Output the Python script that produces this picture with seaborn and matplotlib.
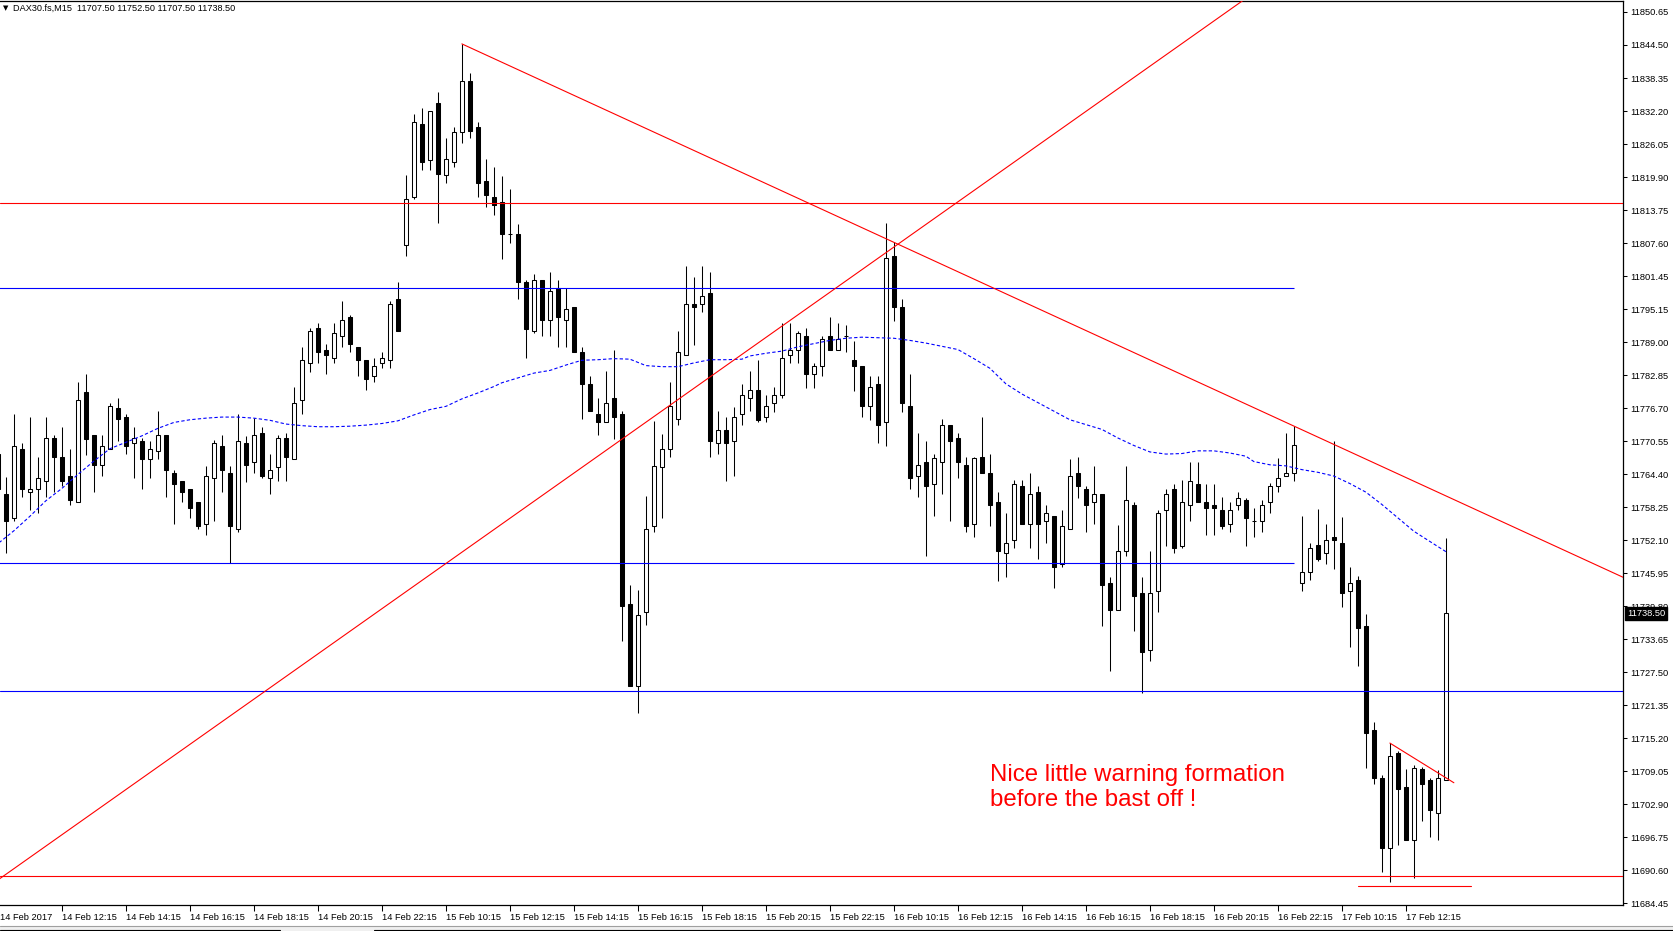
import numpy as np
import seaborn as sns
import matplotlib
matplotlib.use("Agg")
import matplotlib.pyplot as plt
from matplotlib.patches import Rectangle
from matplotlib.lines import Line2D

# DAX30.fs M15 candles, bar index 0 = left edge of the chart
opens = [
    11768.3, 11760.8, 11756.3, 11769.2, 11761.1, 11761.7, 11763.2, 11771.2, 11767.7, 11764.1,
    11759.3, 11779.8, 11771.8, 11766.2, 11769.2, 11776.8, 11775.1, 11770.3, 11770.7, 11767.3,
    11768.8, 11771.8, 11764.7, 11763.2, 11761.7, 11759.3, 11755.2, 11763.8, 11769.7, 11764.7,
    11754.2, 11770.3, 11766.7, 11772.1, 11763.7, 11765.8, 11771.2, 11767.3, 11778.3, 11785.2,
    11791.7, 11787.7, 11786.1, 11790.2, 11793.8, 11788.2, 11785.7, 11782.8, 11785.2, 11785.7,
    11797.1, 11807.2, 11816.1, 11829.7, 11823.1, 11833.6, 11820.2, 11822.6, 11828.2, 11837.7,
    11829.2, 11819.1, 11816.1, 11815.2, 11809.2, 11809.2, 11800.3, 11791.1, 11800.7, 11793.2,
    11799.2, 11793.2, 11795.7, 11787.3, 11781.3, 11775.7, 11774.2, 11778.7, 11775.7, 11740.3,
    11724.9, 11738.8, 11754.8, 11765.8, 11769.2, 11774.7, 11786.7, 11796.2, 11796.2, 11798.2,
    11770.2, 11772.7, 11770.7, 11775.7, 11778.7, 11780.2, 11775.1, 11777.7, 11779.2, 11786.6,
    11787.6, 11790.2, 11783.1, 11784.6, 11790.2, 11787.6, 11790.2, 11785.7, 11784.6, 11777.1,
    11781.3, 11774.1, 11805.1, 11795.6, 11777.2, 11764.1, 11766.7, 11762.6, 11766.7, 11773.6,
    11771.2, 11766.2, 11755.2, 11767.7, 11764.7, 11759.3, 11749.8, 11752.2, 11762.3, 11755.2,
    11761.2, 11755.7, 11756.7, 11747.7, 11754.2, 11764.7, 11761.7, 11759.3, 11760.8, 11744.2,
    11739.1, 11750.2, 11758.7, 11742.3, 11731.7, 11742.7, 11757.7, 11761.7, 11751.1, 11758.7,
    11762.6, 11759.3, 11758.7, 11757.7, 11755.2, 11758.7, 11759.7, 11755.8, 11755.7, 11759.3,
    11762.3, 11764.1, 11764.7, 11744.1, 11746.2, 11751.3, 11749.8, 11752.8, 11751.6, 11742.6,
    11744.7, 11736.2, 11716.8, 11707.8, 11694.8, 11712.4, 11706.2, 11696.3, 11709.4, 11707.4,
    11701.3, 11707.5,
]
highs = [
    11768.5, 11763.9, 11775.7, 11770.3, 11775.2, 11767.7, 11775.2, 11771.8, 11773.3, 11769.2,
    11781.7, 11783.2, 11771.8, 11771.8, 11777.8, 11778.7, 11775.7, 11773.3, 11771.2, 11770.7,
    11776.3, 11771.8, 11765.2, 11763.2, 11761.7, 11759.3, 11765.9, 11770.8, 11771.8, 11765.9,
    11775.7, 11771.5, 11774.9, 11773.3, 11768.2, 11771.7, 11772.1, 11780.8, 11788.2, 11791.8,
    11792.6, 11788.8, 11792.6, 11796.8, 11794.2, 11788.2, 11785.7, 11786.1, 11787.3, 11796.8,
    11800.3, 11820.3, 11831.6, 11832.7, 11832.1, 11835.7, 11827.1, 11829.2, 11844.7, 11839.3,
    11830.1, 11823.2, 11821.8, 11820.0, 11817.6, 11811.2, 11800.7, 11801.8, 11800.7, 11802.2,
    11800.7, 11799.2, 11795.7, 11788.2, 11782.8, 11778.7, 11783.7, 11787.7, 11776.2, 11743.8,
    11742.8, 11760.3, 11774.3, 11771.9, 11781.7, 11791.2, 11803.3, 11801.3, 11803.3, 11802.2,
    11776.2, 11775.2, 11776.9, 11781.3, 11783.7, 11785.7, 11779.2, 11780.7, 11792.6, 11792.6,
    11791.1, 11791.7, 11785.1, 11790.2, 11793.7, 11792.7, 11792.3, 11789.3, 11784.6, 11782.7,
    11782.7, 11811.3, 11807.7, 11797.1, 11783.2, 11772.1, 11770.6, 11768.2, 11774.7, 11773.6,
    11772.1, 11767.7, 11767.7, 11775.2, 11768.2, 11761.2, 11757.2, 11763.3, 11763.3, 11764.7,
    11762.3, 11758.7, 11756.7, 11757.8, 11767.3, 11767.7, 11762.3, 11765.9, 11760.8, 11745.3,
    11754.9, 11765.9, 11759.3, 11745.3, 11750.2, 11757.7, 11761.7, 11762.6, 11763.3, 11766.8,
    11766.8, 11762.6, 11762.6, 11760.2, 11759.3, 11761.2, 11760.1, 11758.2, 11759.7, 11762.8,
    11767.4, 11772.1, 11773.4, 11756.7, 11751.6, 11757.9, 11755.2, 11770.6, 11756.4, 11747.2,
    11745.4, 11738.3, 11718.3, 11708.3, 11714.3, 11712.8, 11709.5, 11710.3, 11709.8, 11707.8,
    11709.3, 11752.5,
]
lows = [
    11761.0, 11749.8, 11755.7, 11760.2, 11757.7, 11757.2, 11760.2, 11761.1, 11762.2, 11758.7,
    11759.3, 11768.1, 11761.1, 11764.1, 11769.2, 11770.6, 11768.2, 11763.7, 11761.6, 11763.7,
    11767.2, 11760.2, 11755.1, 11759.2, 11756.2, 11754.2, 11753.1, 11755.7, 11761.1, 11747.8,
    11753.6, 11763.0, 11764.6, 11763.7, 11760.7, 11763.1, 11763.1, 11767.3, 11775.6, 11783.6,
    11785.2, 11783.1, 11785.2, 11788.2, 11787.2, 11782.7, 11780.1, 11781.7, 11784.2, 11784.2,
    11791.1, 11805.1, 11815.7, 11821.1, 11821.1, 11811.3, 11818.7, 11821.7, 11826.2, 11827.1,
    11816.1, 11814.2, 11812.7, 11804.6, 11807.6, 11797.1, 11786.2, 11790.7, 11790.2, 11790.2,
    11788.2, 11788.2, 11787.2, 11774.7, 11776.2, 11771.7, 11774.2, 11771.1, 11733.3, 11724.9,
    11719.9, 11736.3, 11753.7, 11756.3, 11767.6, 11773.7, 11786.7, 11788.6, 11794.7, 11767.6,
    11768.2, 11763.2, 11764.2, 11773.6, 11776.2, 11774.1, 11774.1, 11776.1, 11778.7, 11785.1,
    11785.1, 11780.6, 11780.6, 11782.7, 11787.6, 11787.6, 11787.2, 11780.0, 11775.1, 11774.6,
    11770.2, 11769.7, 11793.1, 11776.1, 11761.7, 11760.2, 11749.2, 11756.7, 11760.7, 11755.7,
    11763.7, 11753.6, 11752.8, 11764.7, 11754.7, 11744.5, 11745.3, 11750.6, 11755.2, 11750.6,
    11748.7, 11751.6, 11743.2, 11747.2, 11754.2, 11760.1, 11753.6, 11755.2, 11736.1, 11727.7,
    11739.1, 11749.2, 11735.2, 11723.7, 11729.7, 11738.7, 11751.1, 11749.7, 11750.6, 11755.7,
    11759.3, 11753.1, 11753.1, 11754.2, 11753.6, 11757.7, 11751.1, 11752.8, 11753.6, 11757.2,
    11761.1, 11764.1, 11763.1, 11742.6, 11744.7, 11748.3, 11747.7, 11746.7, 11739.7, 11732.2,
    11728.7, 11709.7, 11706.7, 11690.3, 11688.3, 11695.2, 11696.3, 11689.2, 11699.8, 11696.8,
    11696.2, 11707.5,
]
closes = [
    11761.6, 11755.7, 11769.7, 11761.6, 11761.7, 11763.8, 11771.2, 11767.6, 11763.1, 11759.7,
    11778.3, 11771.1, 11766.1, 11769.7, 11777.2, 11774.7, 11769.7, 11771.2, 11767.3, 11769.2,
    11771.8, 11765.2, 11762.6, 11761.1, 11758.1, 11754.7, 11764.1, 11770.3, 11765.2, 11754.7,
    11770.7, 11766.1, 11771.8, 11764.1, 11765.2, 11771.2, 11767.6, 11777.7, 11785.7, 11791.2,
    11787.2, 11786.6, 11790.8, 11793.2, 11788.7, 11785.7, 11782.2, 11784.6, 11786.1, 11796.2,
    11791.1, 11815.7, 11830.1, 11822.6, 11832.1, 11820.5, 11823.2, 11828.2, 11837.7, 11828.5,
    11818.7, 11816.6, 11814.6, 11809.2, 11809.2, 11800.2, 11791.6, 11800.7, 11793.2, 11798.6,
    11793.7, 11795.2, 11787.2, 11781.3, 11776.2, 11774.2, 11777.7, 11775.1, 11739.8, 11724.9,
    11738.2, 11754.3, 11765.9, 11769.2, 11777.2, 11787.3, 11796.2, 11795.7, 11797.7, 11770.6,
    11772.7, 11770.2, 11775.1, 11779.2, 11780.2, 11774.6, 11777.2, 11779.2, 11786.1, 11787.6,
    11790.7, 11783.1, 11784.6, 11789.7, 11787.6, 11789.7, 11790.2, 11784.6, 11777.1, 11780.7,
    11773.6, 11804.7, 11795.6, 11777.7, 11763.7, 11766.1, 11762.2, 11767.4, 11773.6, 11770.6,
    11766.7, 11754.7, 11767.4, 11764.7, 11758.7, 11750.2, 11751.6, 11762.6, 11755.2, 11760.8,
    11755.2, 11757.2, 11747.2, 11754.8, 11764.2, 11762.3, 11758.7, 11760.8, 11743.8, 11739.1,
    11750.2, 11759.7, 11741.7, 11731.3, 11742.3, 11757.2, 11760.8, 11750.6, 11759.3, 11763.2,
    11759.3, 11758.2, 11758.2, 11754.8, 11757.7, 11760.1, 11756.2, 11755.8, 11758.7, 11762.3,
    11763.8, 11764.7, 11769.8, 11746.2, 11750.7, 11748.7, 11752.2, 11752.2, 11742.3, 11744.2,
    11735.7, 11716.2, 11707.8, 11694.8, 11711.8, 11705.8, 11696.3, 11709.7, 11706.7, 11701.8,
    11707.8, 11738.5,
]

# moving average (blue dotted), read at these bars
ma_bar = [0, 2, 4, 6, 8, 10, 12, 14, 16, 18, 20, 22, 24, 26, 28, 30,
          32, 34, 36, 38, 40, 42, 44, 46, 48, 50, 52, 54, 56, 58, 60, 62,
          63, 65, 67, 69, 71, 73, 75, 77, 79, 81, 83, 85, 87, 89, 91, 93,
          94, 96, 98, 100, 102, 104, 106, 108, 110, 112, 114, 116, 118, 120, 122, 124,
          126, 128, 130, 132, 134, 136, 138, 140, 142, 144, 146, 148, 150, 152, 154, 156,
          157, 159, 161, 163, 165, 167, 169, 171, 173, 175, 177, 179, 181]
ma_val = [11751.5, 11753.9, 11756.6, 11759.5, 11761.8, 11764.4, 11766.9, 11769.2,
          11770.4, 11771.6, 11773.0, 11774.1, 11774.6, 11774.9, 11775.1, 11775.1,
          11774.9, 11774.5, 11773.8, 11773.5, 11773.3, 11773.3, 11773.4, 11773.6,
          11773.9, 11774.4, 11775.5, 11776.5, 11777.1, 11778.5, 11779.6, 11780.8,
          11781.5, 11782.4, 11783.3, 11783.8, 11784.8, 11785.7, 11785.8, 11786.0,
          11785.9, 11784.7, 11784.5, 11784.5, 11785.2, 11785.8, 11785.8, 11785.9,
          11786.5, 11787.0, 11787.4, 11788.2, 11788.8, 11789.4, 11789.8, 11790.0,
          11789.9, 11789.8, 11789.4, 11788.9, 11788.3, 11787.7, 11786.0, 11784.2,
          11781.3, 11779.4, 11777.8, 11776.2, 11774.6, 11773.7, 11772.8, 11771.2,
          11769.8, 11768.6, 11768.2, 11768.3, 11768.8, 11768.8, 11768.4, 11767.8,
          11766.8, 11766.2, 11766.0, 11765.3, 11764.8, 11764.1, 11762.7, 11761.1,
          11758.8, 11756.3, 11753.8, 11751.9, 11750.0]

# drawn objects
red_levels = [11815.05, 11689.6]
blue_levels = [11724.1]
blue_short_levels = [11799.1, 11747.9]
blue_short_end = 162
fall_line_x = [58, 215]
fall_line_y = [11844.7, 11737.1]
rise_line_x = [-5, 160]
rise_line_y = [11683.5, 11857.4]
small_line_x = [174, 182]
small_line_y = [11714.3, 11706.9]
floor_line_x = [170, 184.1]
floor_line_y = [11687.7, 11687.7]

ytick_labels = ['11684.45', '11690.60', '11696.75', '11702.90', '11709.05', '11715.20',
                '11721.35', '11727.50', '11733.65', '11739.80', '11745.95', '11752.10',
                '11758.25', '11764.40', '11770.55', '11776.70', '11782.85', '11789.00',
                '11795.15', '11801.45', '11807.60', '11813.75', '11819.90', '11826.05',
                '11832.20', '11838.35', '11844.50', '11850.65']
xtick_labels = ['14 Feb 2017', '14 Feb 12:15', '14 Feb 14:15', '14 Feb 16:15', '14 Feb 18:15',
                '14 Feb 20:15', '14 Feb 22:15', '15 Feb 10:15', '15 Feb 12:15',
                '15 Feb 14:15', '15 Feb 16:15', '15 Feb 18:15', '15 Feb 20:15',
                '15 Feb 22:15', '16 Feb 10:15', '16 Feb 12:15', '16 Feb 14:15',
                '16 Feb 16:15', '16 Feb 18:15', '16 Feb 20:15', '16 Feb 22:15',
                '17 Feb 10:15', '17 Feb 12:15']
title_text = "DAX30.fs,M15  11707.50 11752.50 11707.50 11738.50"
last_price = 11738.50
note_text = "Nice little warning formation\nbefore the bast off !"


def main():
    sns.set_style("white")
    plt.rcParams['font.family'] = ['Liberation Sans', 'DejaVu Sans']

    W, H = 1673, 931
    fig = plt.figure(figsize=(W / 100, H / 100), dpi=100)
    ax = fig.add_axes([0, 26 / H, 1623 / W, 904 / H])

    o = np.array(opens)
    c = np.array(closes)
    x = np.arange(len(o))
    up = c > o

    # candles
    ax.vlines(x, lows, highs, color='black', lw=0.75, zorder=2)
    ax.bar(x, np.abs(c - o), bottom=np.minimum(o, c), width=0.55,
           color=np.where(up, 'white', 'black'), edgecolor='black',
           linewidth=0.75, zorder=3)

    # moving average
    sns.lineplot(x=ma_bar, y=ma_val, ax=ax, color='#0000FF', lw=0.8,
                 linestyle=(0, (3, 2)), zorder=4)

    # horizontal levels and trend lines
    for lv in red_levels:
        ax.axhline(lv, color='#FF0000', lw=0.8, zorder=4)
    for lv in blue_levels:
        ax.axhline(lv, color='#0000FF', lw=0.8, zorder=4)
    ax.hlines(blue_short_levels, -5, blue_short_end, color='#0000FF', lw=0.8, zorder=4)
    ax.plot(fall_line_x, fall_line_y, color='#FF0000', lw=0.8, zorder=4)
    ax.plot(rise_line_x, rise_line_y, color='#FF0000', lw=0.8, zorder=4)
    ax.plot(small_line_x, small_line_y, color='#FF0000', lw=0.8, zorder=4)
    ax.plot(floor_line_x, floor_line_y, color='#FF0000', lw=0.8, zorder=4)

    ax.text(124.0, 11710.4, note_text, color='#FF0000', fontsize=17.3,
            ha='left', va='top', linespacing=1.2, zorder=5)

    ax.set_xlim(0.26, 203.14)
    ax.set_ylim(11684.1, 11852.7)

    # axes look
    for side in ['top', 'right', 'bottom']:
        ax.spines[side].set_visible(True)
        ax.spines[side].set_color('black')
        ax.spines[side].set_linewidth(0.9)
    ax.spines['left'].set_visible(False)

    ax.set_yticks(np.linspace(11684.45, 11850.65, len(ytick_labels)))
    ax.set_yticklabels(ytick_labels)
    ax.yaxis.tick_right()
    ax.tick_params(axis='y', right=True, left=False, length=3, width=0.75,
                   pad=2, labelsize=6.7, colors='black', direction='out')

    ax.set_xticks([0.3] + list(range(8, 8 * len(xtick_labels), 8)))
    ax.set_xticklabels(xtick_labels, ha='left')
    ax.tick_params(axis='x', bottom=True, length=4, width=0.75, pad=1.5,
                   labelsize=6.7, colors='black', direction='out')
    ax.xaxis.get_major_ticks()[0].tick1line.set_visible(False)
    ax.set_xlabel('')
    ax.set_ylabel('')

    # current price box
    ax.annotate(f"{last_price:.2f}", xy=(1, last_price),
                xycoords=('axes fraction', 'data'), xytext=(3, 0),
                textcoords='offset points', ha='left', va='center',
                fontsize=6.7, color='white', zorder=6, annotation_clip=False,
                bbox=dict(boxstyle='square,pad=0.2', fc='black', ec='black'))

    # header
    fig.text(3 / W, 1 - 8 / H, '\u25BC', fontsize=5, family=['DejaVu Sans'],
             ha='left', va='center', color='black')
    fig.text(13 / W, 1 - 8 / H, title_text, fontsize=6.6, ha='left',
             va='center', color='black')

    # bottom tab strip
    fig.add_artist(Rectangle((0, 0), 1, 5 / H, transform=fig.transFigure,
                             fc='#f0f0f0', ec='none'))
    fig.add_artist(Line2D([0, 1], [5 / H, 5 / H], transform=fig.transFigure,
                          color='#a0a0a0', lw=0.8))
    fig.add_artist(Line2D([0, 280 / W], [1.5 / H, 1.5 / H], transform=fig.transFigure,
                          color='black', lw=0.8))
    fig.add_artist(Line2D([374 / W, 1], [1.5 / H, 1.5 / H], transform=fig.transFigure,
                          color='black', lw=0.8))

    fig.savefig('out.png', dpi=100)


if __name__ == "__main__":
    main()
